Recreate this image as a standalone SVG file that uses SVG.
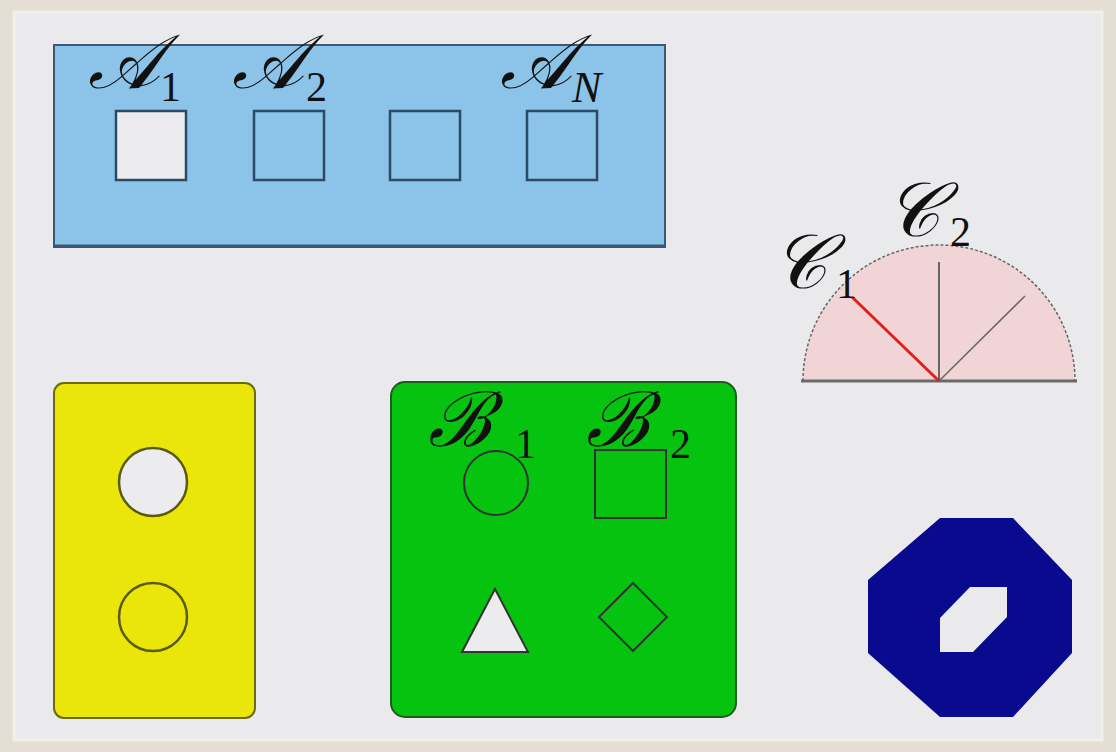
<svg xmlns="http://www.w3.org/2000/svg" width="1116" height="752" viewBox="0 0 1116 752">
<style>
.lbl{font-family:"DejaVu Serif","Liberation Serif",serif;font-style:italic;font-size:76px;fill:#111}
.sub{font-family:"Liberation Serif",serif;font-size:42px;fill:#111}
.sq{stroke:#2b4a66;stroke-width:2.5}
.edge{stroke:#333;stroke-width:2}
</style>
<rect x="0" y="0" width="1116" height="752" fill="#e4ded4"/>
<rect x="14" y="12" width="1088" height="728" fill="#eaeaed" stroke="#f2efe8" stroke-width="3"/>
<g id="blue-panel">
<rect x="54" y="45" width="611" height="202" fill="#8cc3e8" stroke="#3b5874" stroke-width="2"/>
<line x1="54" y1="246" x2="665" y2="246" stroke="#3b5874" stroke-width="3"/>
<rect class="sq" x="116" y="111" width="70" height="69" fill="#ececee"/>
<rect class="sq" x="254" y="111" width="70" height="69" fill="none"/>
<rect class="sq" x="390" y="111" width="70" height="69" fill="none"/>
<rect class="sq" x="527" y="111" width="70" height="69" fill="none"/>
<text class="lbl" x="88" y="88">𝒜</text><text class="sub" x="160" y="101">1</text>
<text class="lbl" x="232" y="88">𝒜</text><text class="sub" x="306" y="101">2</text>
<text class="lbl" x="500" y="88">𝒜</text><text class="lbl" x="572" y="102" style="font-family:'Liberation Serif',serif;font-size:44px">N</text>
</g>
<g id="semicircle">
<path d="M803 381 A136 136 0 0 1 1075 381 Z" fill="#f0d4d6"/>
<path d="M803 381 A136 136 0 0 1 1075 381" fill="none" stroke="#666" stroke-width="1.5" stroke-dasharray="3 2"/>
<line x1="801" y1="381" x2="1077" y2="381" stroke="#6a6a6a" stroke-width="3"/>
<line x1="939" y1="381" x2="939" y2="262" stroke="#666" stroke-width="2"/>
<line x1="939" y1="381" x2="1025" y2="296" stroke="#666" stroke-width="1.5"/>
<line x1="939" y1="381" x2="852" y2="297" stroke="#e02020" stroke-width="3"/>
<text class="lbl" x="772" y="288">𝒞</text><text class="sub" x="836" y="298">1</text>
<text class="lbl" x="885" y="236">𝒞</text><text class="sub" x="950" y="246">2</text>
</g>
<g id="yellow-panel">
<rect x="54" y="383" width="201" height="335" rx="10" fill="#ebe60a" stroke="#6b6a10" stroke-width="2"/>
<circle cx="153" cy="482" r="34" fill="#ececee" stroke="#5a5a10" stroke-width="2.5"/>
<circle cx="153" cy="617" r="34" fill="none" stroke="#5a5a10" stroke-width="2.5"/>
</g>
<g id="green-panel">
<rect x="391" y="382" width="345" height="335" rx="14" fill="#05c30f" stroke="#1f5a1f" stroke-width="2"/>
<circle cx="496" cy="483" r="32" fill="none" class="edge"/>
<rect x="595" y="450" width="71" height="68" fill="none" class="edge"/>
<polygon points="495,589 462,652 528,652" fill="#ececee" class="edge"/>
<polygon points="633,583 667,617 633,651 599,617" fill="none" class="edge"/>
<text class="lbl" x="428" y="446">ℬ</text><text class="sub" x="515" y="458">1</text>
<text class="lbl" x="586" y="446">ℬ</text><text class="sub" x="670" y="458">2</text>
</g>
<g id="octagon">
<path fill-rule="evenodd" fill="#0a0a8e" d="M940 518 L1013 518 L1072 580 L1072 653 L1013 717 L940 717 L868 653 L868 580 Z M970 587 L1007 587 L1007 617 L973 652 L940 652 L940 618 Z"/>
</g>
</svg>
